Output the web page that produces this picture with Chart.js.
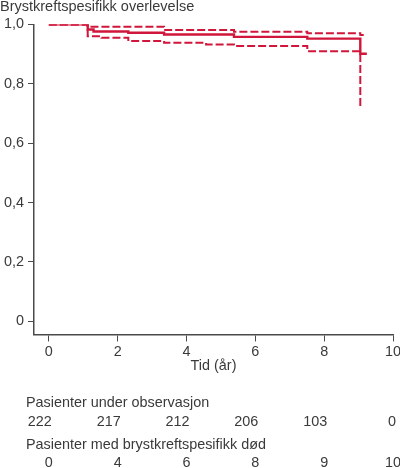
<!DOCTYPE html>
<html>
<head>
<meta charset="utf-8">
<script src="https://cdn.jsdelivr.net/npm/chart.js@4"></script>
<style>
  html, body { margin: 0; padding: 0; background: #fff; }
  #wrap { width: 400px; height: 468px; }
</style>
</head>
<body>
<div id="wrap"><canvas id="km"></canvas></div>
<script>
// Kaplan-Meier kurve, lest av bildet
let survT = [0, 1.13, 1.30, 2.31, 3.35, 5.38, 7.51, 9.05, 9.24];
let survS = [1.0, 0.983, 0.976, 0.972, 0.966, 0.958, 0.952, 0.901, 0.901];
let upperT = [0, 1.13, 3.35, 5.38, 7.51, 9.05, 9.15];
let upperS = [1.0, 0.992, 0.981, 0.975, 0.970, 0.964, 0.964];
let lowerT = [0, 1.13, 1.53, 2.31, 3.35, 4.57, 5.38, 7.51, 9.05];
let lowerS = [1.0, 0.960, 0.955, 0.944, 0.938, 0.932, 0.927, 0.910, 0.724];

let xTicks = [0, 2, 4, 6, 8, 10];
let yTicks = [0, 0.2, 0.4, 0.6, 0.8, 1.0];
let yTickLabels = ["0", "0,2", "0,4", "0,6", "0,8", "1,0"];

// tabell under figuren
let tableTimes = [0, 2, 4, 6, 8, 10];
let atRisk = [222, 217, 212, 206, 103, 0];
let deaths = [0, 4, 6, 8, 9, 10];
let atRiskTitle = "Pasienter under observasjon";
let deathsTitle = "Pasienter med brystkreftspesifikk død";

const red = "#d0163a";
const txt = "#3a3a3a";
const axisCol = "#4a4a4a";
const fam = '"Liberation Sans", Arial, sans-serif';
const fs = 14.4;

const toPoints = (ts, ss) => ts.map((t, i) => ({ x: t, y: ss[i] }));

const riskTable = {
  id: "riskTable",
  afterDraw(chart) {
    const ctx = chart.ctx;
    const xs = chart.scales.x;
    ctx.save();
    ctx.font = fs + "px " + fam;
    ctx.fillStyle = txt;
    ctx.textBaseline = "middle";
    ctx.textAlign = "left";
    ctx.fillText(atRiskTitle, 26, 403);
    ctx.fillText(deathsTitle, 26, 445);
    ctx.textAlign = "right";
    for (let i = 0; i < tableTimes.length; i++) {
      ctx.fillText(String(atRisk[i]), xs.getPixelForValue(tableTimes[i]) + 3, 422);
    }
    ctx.textAlign = "center";
    for (let i = 0; i < tableTimes.length; i++) {
      ctx.fillText(String(deaths[i]), xs.getPixelForValue(tableTimes[i]), 463.5);
    }
    ctx.restore();
  }
};

new Chart(document.getElementById("km"), {
  type: "line",
  data: {
    datasets: [
      {
        data: toPoints(upperT, upperS),
        borderColor: red,
        borderWidth: 2,
        borderDash: [8, 3],
        stepped: true,
        pointRadius: 0,
        fill: false
      },
      {
        data: toPoints(lowerT, lowerS),
        borderColor: red,
        borderWidth: 2,
        borderDash: [8, 3],
        stepped: true,
        pointRadius: 0,
        fill: false
      },
      {
        data: toPoints(survT, survS),
        borderColor: red,
        borderWidth: 2.4,
        stepped: true,
        pointRadius: 0,
        fill: false
      }
    ]
  },
  options: {
    responsive: true,
    maintainAspectRatio: false,
    animation: false,
    layout: { padding: { left: 0, right: 0, top: 0, bottom: 93 } },
    plugins: {
      legend: { display: false },
      tooltip: { enabled: false },
      title: {
        display: true,
        text: "Brystkreftspesifikk overlevelse",
        align: "start",
        color: txt,
        font: { family: fam, size: 14.5, weight: "normal" },
        padding: { top: -1.5, bottom: 8.5 }
      }
    },
    scales: {
      x: {
        type: "linear",
        min: -0.43,
        max: 10,
        afterBuildTicks: s => { s.ticks = xTicks.map(v => ({ value: v })); },
        afterFit: s => { s.paddingRight = 7; },
        ticks: {
          color: txt,
          font: { family: fam, size: fs },
          padding: 2,
          maxRotation: 0
        },
        grid: { drawOnChartArea: false, drawTicks: true, tickLength: 7, color: axisCol, lineWidth: 1 },
        border: { display: true, color: axisCol, width: 1.5 },
        title: {
          display: true,
          text: "Tid (år)",
          color: txt,
          font: { family: fam, size: fs },
          padding: { top: -5, bottom: 0 }
        }
      },
      y: {
        type: "linear",
        min: -0.044,
        max: 1.0,
        afterBuildTicks: s => { s.ticks = yTicks.map(v => ({ value: v })); },
        ticks: {
          color: txt,
          font: { family: fam, size: fs },
          padding: 4,
          callback: v => yTickLabels[yTicks.findIndex(t => Math.abs(t - v) < 1e-6)]
        },
        grid: { drawOnChartArea: false, drawTicks: true, tickLength: 6, color: axisCol, lineWidth: 1 },
        border: { display: true, color: axisCol, width: 1.5 }
      }
    }
  },
  plugins: [riskTable]
});
</script>
</body>
</html>
